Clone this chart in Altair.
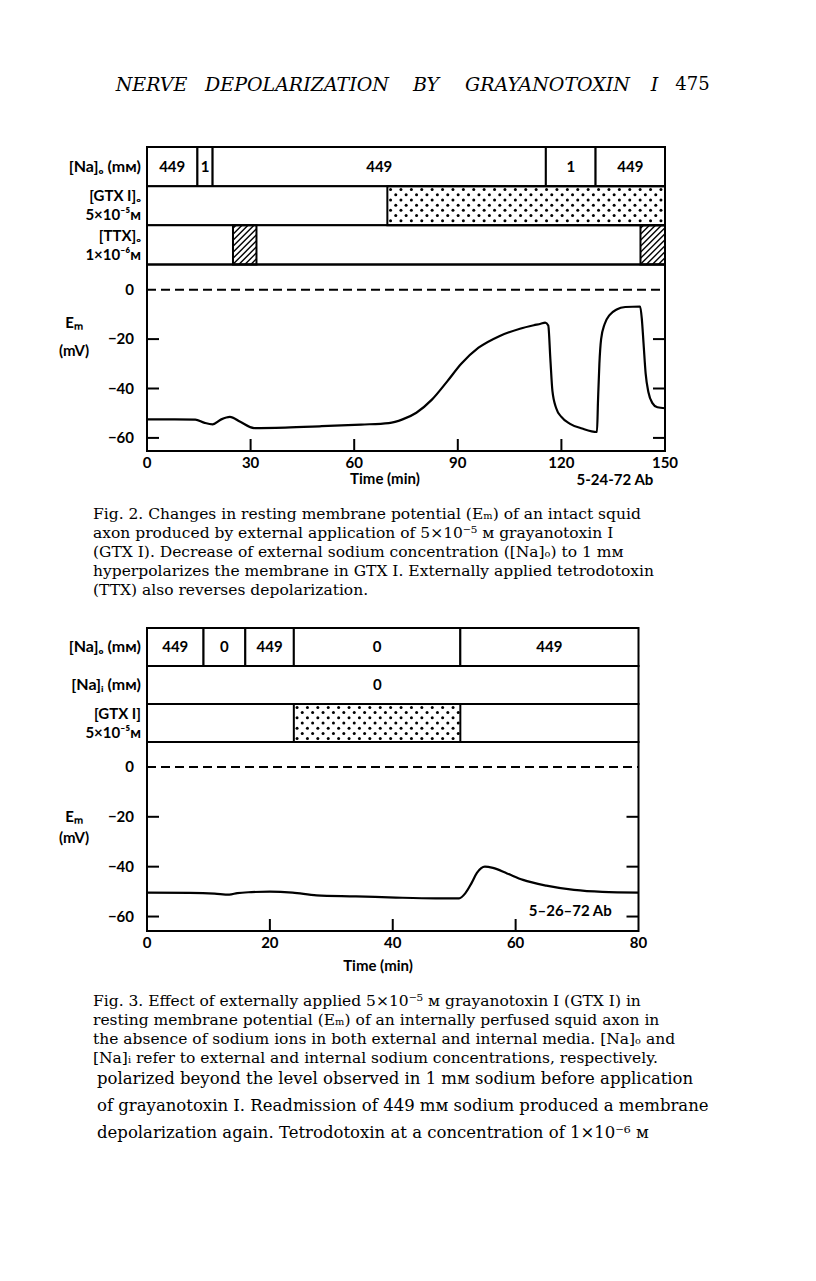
import altair as alt
import pandas as pd

# ---------------- data ----------------
# Fig. 2  (time in min, Em in mV)
f2_na_start = [0.0, 14.6, 19.0, 115.5, 129.9]
f2_na_end = [14.6, 19.0, 115.5, 129.9, 150.0]
f2_na_value = ["449", "1", "449", "1", "449"]
f2_gtx_start = [69.6]
f2_gtx_end = [150.0]
f2_ttx_start = [24.9, 142.9]
f2_ttx_end = [31.7, 150.0]
f2_time = [0, 8, 14, 16.5, 19, 21.5, 24, 27, 31, 40, 50, 62, 70, 74, 78, 82.5, 87, 91,
           96, 102, 108, 112, 114, 115.3, 116.2, 116.8, 117.4, 118.5, 120, 122.5, 126,
           130.3, 130.6, 131, 131.5, 132.5, 134, 136, 138.5, 142.8, 143.3, 143.8, 144.4,
           145.2, 146.3, 147.8, 150]
f2_em = [-52.5, -52.5, -52.6, -53.8, -54.5, -52.5, -51.5, -53.5, -56.0, -55.8, -55.3, -54.6,
         -54.0, -52.5, -49.8, -44.5, -37.0, -30.0, -23.5, -18.8, -15.8, -14.4, -13.8, -13.3,
         -14.5, -28.0, -41.0, -48.0, -51.5, -54.3, -56.2, -57.6, -45.0, -30.0, -20.0, -14.0,
         -10.2, -8.0, -7.0, -6.8, -12.0, -22.0, -34.0, -41.5, -45.8, -47.6, -48.0]
f2_xticks = [0, 30, 60, 90, 120, 150]
f2_inner_xticks = [30, 60, 90, 120]
f2_yticks = [0, -20, -40, -60]
f2_side_ticks = [-20, -40, -60]

# Fig. 3
f3_na_start = [0.0, 9.2, 16.0, 23.9, 51.0]
f3_na_end = [9.2, 16.0, 23.9, 51.0, 80.0]
f3_na_value = ["449", "0", "449", "0", "449"]
f3_nai_value = ["0"]
f3_gtx_start = [23.9]
f3_gtx_end = [51.0]
f3_time = [0, 7, 11, 13.4, 14.7, 17, 20, 23.7, 27.6, 34, 40.5, 47, 50.8, 51.8, 52.8, 53.7,
           55, 56.3, 58.6, 61.2, 65, 69.5, 74.1, 80]
f3_em = [-50.4, -50.5, -50.8, -51.2, -50.6, -50.2, -50.0, -50.4, -51.5, -51.9, -52.4, -52.7,
         -52.7, -50.7, -46.7, -42.5, -40.0, -40.5, -42.7, -45.3, -47.6, -49.3, -50.1, -50.4]
f3_xticks = [0, 20, 40, 60, 80]
f3_inner_xticks = [20, 40, 60]
f3_yticks = [0, -20, -40, -60]
f3_side_ticks = [-20, -40, -60]

minus = "\u2212"
header_words = ["NERVE", "DEPOLARIZATION", "BY", "GRAYANOTOXIN", "I"]
page_number = "475"

caption2 = [
    "Fig. 2. Changes in resting membrane potential (E\u2098) of an intact squid",
    "axon produced by external application of 5\u00d710\u207b\u2075 \u1d0d grayanotoxin I",
    "(GTX I). Decrease of external sodium concentration ([Na]\u2092) to 1 m\u1d0d",
    "hyperpolarizes the membrane in GTX I. Externally applied tetrodotoxin",
    "(TTX) also reverses depolarization.",
]
caption3 = [
    "Fig. 3. Effect of externally applied 5\u00d710\u207b\u2075 \u1d0d grayanotoxin I (GTX I) in",
    "resting membrane potential (E\u2098) of an internally perfused squid axon in",
    "the absence of sodium ions in both external and internal media. [Na]\u2092 and",
    "[Na]\u1d62 refer to external and internal sodium concentrations, respectively.",
]
body = [
    "polarized beyond the level observed in 1 m\u1d0d sodium before application",
    "of grayanotoxin I. Readmission of 449 m\u1d0d sodium produced a membrane",
    "depolarization again. Tetrodotoxin at a concentration of 1\u00d710\u207b\u2076 \u1d0d",
]

# ---------------- layout (page pixels) ----------------
OFF = 8  # page margin
G2 = dict(left=147, right=665, top=147, plot_top=264.5, bottom=451,
          xdom=[0, 150], ydom=[-65.3, 10.2])
G3 = dict(left=147, right=638.5, top=628, plot_top=742, bottom=931,
          xdom=[0, 80], ydom=[-65.8, 10.0])

FIG_FONT = "Lato"
SERIF = "DejaVu Serif"
LW = 2.0
FS = 15


def lin(d0, d1, r0, r1):
    return lambda v: r0 + (v - d0) * (r1 - r0) / (d1 - d0)


def scales(g):
    xs = alt.Scale(domain=g["xdom"], range=[g["left"] - OFF, g["right"] - OFF], nice=False, zero=False)
    ys = alt.Scale(domain=g["ydom"], range=[g["bottom"] - OFF, g["plot_top"] - OFF], nice=False, zero=False)
    ps = alt.Scale(domain=[0, 3], range=[g["plot_top"] - OFF, g["top"] - OFF], nice=False, zero=False)
    return xs, ys, ps


def stipple(g, t0, t1, lo, hi):
    X = lin(g["xdom"][0], g["xdom"][1], g["left"], g["right"])
    Xi = lin(g["left"], g["right"], g["xdom"][0], g["xdom"][1])
    P = lin(0, 3, g["plot_top"], g["top"])
    Pi = lin(g["plot_top"], g["top"], 0, 3)
    xa, xb = X(t0), X(t1)
    ytop, ybot = P(hi), P(lo)
    xs_, ys_ = [], []
    row = 0
    y = ytop + 3.4
    while y < ybot - 1.8:
        x = xa + (3.2 if row % 2 == 0 else 8.4)
        while x < xb - 1.8:
            xs_.append(Xi(x))
            ys_.append(Pi(y))
            x += 10.4
        y += 5.2
        row += 1
    return pd.DataFrame({"t": xs_, "p": ys_})


def hatch(g, t0, t1, lo, hi, s=6.0):
    X = lin(g["xdom"][0], g["xdom"][1], g["left"], g["right"])
    Xi = lin(g["left"], g["right"], g["xdom"][0], g["xdom"][1])
    P = lin(0, 3, g["plot_top"], g["top"])
    Pi = lin(g["plot_top"], g["top"], 0, 3)
    xa, xb = X(t0), X(t1)
    ya, yb = P(hi), P(lo)
    rows = []
    c = xa + ya + s / 2
    while c < xb + yb:
        x1 = max(xa, c - yb)
        x2 = min(xb, c - ya)
        if x2 - x1 > 0.5:
            rows.append(dict(a=Xi(x1), b=Pi(c - x1), a2=Xi(x2), b2=Pi(c - x2)))
        c += s
    return pd.DataFrame(rows)


def figure(g, na_start, na_end, na_value, gtx_start, gtx_end, ttx_start, ttx_end,
           nai_value, row_labels, time, em, xticks, inner_xticks, yticks, side_ticks,
           em_label_y, mv_label_y, time_label, code_label):
    xs, ys, ps = scales(g)
    x0, x1 = g["xdom"]
    y0, y1 = g["ydom"]
    L = []

    # protocol boxes
    boxes = pd.DataFrame({
        "s": list(na_start) + [x0, x0],
        "e": list(na_end) + [x1, x1],
        "lo": [2] * len(na_start) + [1, 0],
        "hi": [3] * len(na_start) + [2, 1],
    })
    L.append(alt.Chart(boxes).mark_rect(fill="white", stroke="black", strokeWidth=LW).encode(
        x=alt.X("s:Q", scale=xs, axis=None), x2="e:Q",
        y=alt.Y("lo:Q", scale=ps, axis=None), y2="hi:Q"))

    na = pd.DataFrame({"m": [(a + b) / 2 for a, b in zip(na_start, na_end)],
                       "p": [2.5] * len(na_start), "v": na_value})
    if nai_value:
        na = pd.concat([na, pd.DataFrame({"m": [37.5], "p": [1.5], "v": nai_value})])
    L.append(alt.Chart(na).mark_text(font=FIG_FONT, fontWeight="bold", fontSize=FS,
                                     baseline="middle", align="center").encode(
        x=alt.X("m:Q", scale=xs, axis=None), y=alt.Y("p:Q", scale=ps, axis=None), text="v:N"))

    # GTX stipple
    gtx_lo = 0 if ttx_start is None else 1
    dots = pd.concat([stipple(g, a, b, gtx_lo, gtx_lo + 1) for a, b in zip(gtx_start, gtx_end)])
    L.append(alt.Chart(dots).mark_circle(color="black", size=9, opacity=1).encode(
        x=alt.X("t:Q", scale=xs, axis=None), y=alt.Y("p:Q", scale=ps, axis=None)))
    seg = pd.DataFrame({"s": gtx_start, "e": gtx_end, "lo": [gtx_lo] * len(gtx_start),
                        "hi": [gtx_lo + 1] * len(gtx_start)})
    if ttx_start is not None:
        hat = pd.concat([hatch(g, a, b, 0, 1) for a, b in zip(ttx_start, ttx_end)])
        L.append(alt.Chart(hat).mark_rule(color="black", strokeWidth=1.4).encode(
            x=alt.X("a:Q", scale=xs, axis=None), x2="a2:Q",
            y=alt.Y("b:Q", scale=ps, axis=None), y2="b2:Q"))
        seg = pd.concat([seg, pd.DataFrame({"s": ttx_start, "e": ttx_end,
                                            "lo": [0] * len(ttx_start), "hi": [1] * len(ttx_start)})])
    L.append(alt.Chart(seg).mark_rect(fillOpacity=0, stroke="black", strokeWidth=LW).encode(
        x=alt.X("s:Q", scale=xs, axis=None), x2="e:Q",
        y=alt.Y("lo:Q", scale=ps, axis=None), y2="hi:Q"))

    # row labels (p, text, font size)
    rl = pd.DataFrame({"x": [x0] * len(row_labels), "p": [r[0] for r in row_labels],
                       "v": [r[1] for r in row_labels], "fs": [r[2] for r in row_labels]})
    L.append(alt.Chart(rl).mark_text(font=FIG_FONT, fontWeight="bold",
                                     align="right", baseline="middle", dx=-6).encode(
        x=alt.X("x:Q", scale=xs, axis=None), y=alt.Y("p:Q", scale=ps, axis=None), text="v:N",
        size=alt.Size("fs:Q", scale=None, legend=None)))

    # plot frame
    fr = pd.DataFrame({"s": [x0], "e": [x1], "lo": [y0], "hi": [y1]})
    L.append(alt.Chart(fr).mark_rect(fillOpacity=0, stroke="black", strokeWidth=LW).encode(
        x=alt.X("s:Q", scale=xs, axis=None), x2="e:Q",
        y=alt.Y("lo:Q", scale=ys, axis=None), y2="hi:Q"))

    # zero dashed line
    zl = pd.DataFrame({"s": [x0], "e": [x1], "y": [0]})
    L.append(alt.Chart(zl).mark_rule(color="black", strokeWidth=LW, strokeDash=[9, 5]).encode(
        x=alt.X("s:Q", scale=xs, axis=None), x2="e:Q", y=alt.Y("y:Q", scale=ys, axis=None)))

    # curve
    cv = pd.DataFrame({"t": time, "em": em})
    L.append(alt.Chart(cv).mark_line(color="black", strokeWidth=2.2, interpolate="monotone").encode(
        x=alt.X("t:Q", scale=xs, axis=None), y=alt.Y("em:Q", scale=ys, axis=None)))

    # ticks (inward)
    lt = pd.DataFrame({"x": [x0] * len(side_ticks), "y": side_ticks})
    L.append(alt.Chart(lt).mark_rule(color="black", strokeWidth=LW, x2Offset=12).encode(
        x=alt.X("x:Q", scale=xs, axis=None), x2="x:Q", y=alt.Y("y:Q", scale=ys, axis=None)))
    rt = pd.DataFrame({"x": [x1] * len(side_ticks), "y": side_ticks})
    L.append(alt.Chart(rt).mark_rule(color="black", strokeWidth=LW, xOffset=-12).encode(
        x=alt.X("x:Q", scale=xs, axis=None), x2="x:Q", y=alt.Y("y:Q", scale=ys, axis=None)))
    bt = pd.DataFrame({"x": inner_xticks, "y": [y0] * len(inner_xticks)})
    L.append(alt.Chart(bt).mark_rule(color="black", strokeWidth=LW, y2Offset=-12).encode(
        x=alt.X("x:Q", scale=xs, axis=None), y=alt.Y("y:Q", scale=ys, axis=None), y2="y:Q"))

    # tick labels
    yl = pd.DataFrame({"x": [x0] * len(yticks), "y": yticks,
                       "v": [str(v).replace("-", minus) for v in yticks]})
    L.append(alt.Chart(yl).mark_text(font=FIG_FONT, fontWeight="bold", fontSize=FS,
                                     align="right", baseline="middle", dx=-13).encode(
        x=alt.X("x:Q", scale=xs, axis=None), y=alt.Y("y:Q", scale=ys, axis=None), text="v:N"))
    xl = pd.DataFrame({"x": xticks, "y": [y0] * len(xticks), "v": [str(v) for v in xticks]})
    L.append(alt.Chart(xl).mark_text(font=FIG_FONT, fontWeight="bold", fontSize=FS,
                                     align="center", baseline="middle", dy=12).encode(
        x=alt.X("x:Q", scale=xs, axis=None), y=alt.Y("y:Q", scale=ys, axis=None), text="v:N"))

    # axis titles and notes
    at = pd.DataFrame({"x": [x0, x0], "y": [em_label_y, mv_label_y], "v": ["E\u2098", "(mV)"]})
    L.append(alt.Chart(at).mark_text(font=FIG_FONT, fontWeight="bold", fontSize=FS,
                                     align="center", baseline="middle", dx=-73).encode(
        x=alt.X("x:Q", scale=xs, axis=None), y=alt.Y("y:Q", scale=ys, axis=None), text="v:N"))
    nt = pd.DataFrame({"x": [time_label[0], code_label[0]], "y": [time_label[1], code_label[1]],
                       "v": [time_label[2], code_label[2]]})
    L.append(alt.Chart(nt).mark_text(font=FIG_FONT, fontWeight="bold", fontSize=FS,
                                     align="center", baseline="middle").encode(
        x=alt.X("x:Q", scale=xs, axis=None), y=alt.Y("y:Q", scale=ys, axis=None), text="v:N"))
    return L


fig2 = figure(
    G2, f2_na_start, f2_na_end, f2_na_value, f2_gtx_start, f2_gtx_end, f2_ttx_start, f2_ttx_end,
    None,
    [(2.5, "[Na]\u2092 (m\u1d0d)", 16), (1.75, "[GTX I]\u2092", 15), (1.26, "5\u00d710\u207b\u2075\u1d0d", 15),
     (0.72, "[TTX]\u2092", 15), (0.23, "1\u00d710\u207b\u2076\u1d0d", 15)],
    f2_time, f2_em, f2_xticks, f2_inner_xticks, f2_yticks, f2_side_ticks,
    -13.3, -25.0, (68.9, -76.5, "Time (min)"), (135.5, -77.0, "5-24-72 Ab"))

fig3 = figure(
    G3, f3_na_start, f3_na_end, f3_na_value, f3_gtx_start, f3_gtx_end, None, None,
    f3_nai_value,
    [(2.5, "[Na]\u2092 (m\u1d0d)", 16), (1.5, "[Na]\u1d62  (m\u1d0d)", 16), (0.74, "[GTX I]", 15),
     (0.25, "5\u00d710\u207b\u2075\u1d0d", 15)],
    f3_time, f3_em, f3_xticks, f3_inner_xticks, f3_yticks, f3_side_ticks,
    -20.0, -28.5, (37.6, -79.8, "Time (min)"), (68.9, -57.7, "5\u201326\u201372 Ab"))

# ---------------- text blocks ----------------
texts = []
word_centers = [151.5, 297, 426, 547.5, 654.5]
for w, cx in zip(header_words, word_centers):
    texts.append(alt.Chart(pd.DataFrame({"v": [w]})).mark_text(
        font=SERIF, fontStyle="italic", fontSize=19, align="center", baseline="middle").encode(
        x=alt.value(cx - OFF), y=alt.value(85 - OFF), text="v:N"))
texts.append(alt.Chart(pd.DataFrame({"v": [page_number]})).mark_text(
    font=SERIF, fontSize=18, align="center", baseline="middle").encode(
    x=alt.value(692.5 - OFF), y=alt.value(85 - OFF), text="v:N"))


def block(lines, y_first, y_last, x_left, size):
    df = pd.DataFrame({"i": list(range(len(lines))), "v": lines})
    return alt.Chart(df).mark_text(font=SERIF, fontSize=size, align="left", baseline="middle").encode(
        x=alt.value(x_left - OFF),
        y=alt.Y("i:Q", scale=alt.Scale(domain=[0, len(lines) - 1],
                                       range=[y_first - OFF, y_last - OFF], nice=False, zero=False),
                axis=None),
        text="v:N")


texts.append(block(caption2, 514, 590, 93, 15.5))
texts.append(block(caption3, 1001, 1058, 93, 15.5))
texts.append(block(body, 1079, 1133, 97, 16.5))

chart = alt.layer(*(fig2 + fig3 + texts)).resolve_scale(
    x="independent", y="independent"
).properties(
    width=800, height=1265, autosize=alt.AutoSizeParams(type="none"), padding=0,
    background="white"
).configure_view(stroke=None)

chart.save("out.html", embed_options={"renderer": "svg", "actions": False})
